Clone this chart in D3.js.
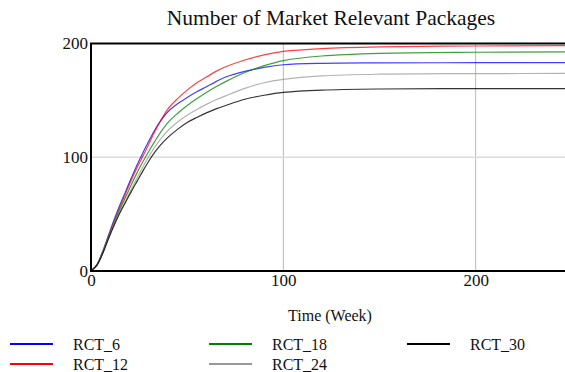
<!DOCTYPE html>
<html>
<head>
<meta charset="utf-8">
<script src="https://cdn.jsdelivr.net/npm/d3@7"></script>
<style>
  html, body { margin: 0; padding: 0; background: #fff; }
  svg text { font-family: "Liberation Serif", "Times New Roman", Times, "DejaVu Serif", serif; }
</style>
</head>
<body>
<svg id="chart" width="565" height="372"></svg>
<script>
// Simulation time axis (weeks)
const weeks = [0, 3, 6, 9, 12, 15, 18, 21, 24, 27, 30, 33, 36, 40, 45, 50, 55, 60, 65, 70, 80, 90, 100, 120, 150, 200, 250, 300];

// Number of market relevant packages for each release cycle time
const rct6  = [0, 5.5, 17, 31, 45, 58, 70, 82, 93.5, 104, 114, 123.5, 131.5, 140, 147, 152.5, 157.5, 162, 166.5, 170.5, 175.5, 179, 181.3, 182.6, 183, 183.1, 183.1, 183.1];
const rct12 = [0, 5, 16, 30, 43, 56, 68, 80, 91, 101, 111.5, 122, 131.5, 142.5, 151.5, 159, 165.5, 170.5, 175.5, 179.5, 185.5, 190, 193, 195.5, 197, 197.8, 198.2, 198.4];
const rct18 = [0, 5, 16, 29.5, 42, 54, 65, 76, 86.5, 96, 105, 113.5, 121.5, 130.5, 138.5, 145.5, 151.5, 157, 162, 166.5, 174.5, 180.5, 185, 189, 191.3, 192.3, 192.6, 192.8];
const rct24 = [0, 5, 15.5, 28.5, 41, 52, 62, 72, 82, 91.5, 100.5, 108.5, 115.5, 123.5, 131, 137, 142, 146.5, 150.5, 154, 160.5, 165.5, 168.5, 171.5, 173, 173.5, 173.7, 173.8];
const rct30 = [0, 5, 15, 28, 40, 51, 60.5, 70, 79, 88, 96.5, 104, 110.5, 117.5, 124.5, 130.5, 135, 139, 142.5, 145.5, 151, 154.5, 157, 159, 160, 160.3, 160.4, 160.5];

const seriesNames  = ["RCT_6", "RCT_12", "RCT_18", "RCT_24", "RCT_30"];
const seriesValues = [rct6, rct12, rct18, rct24, rct30];
const seriesColors = ["#0000ff", "#ff0000", "#008000", "#999999", "#000000"];

const xTicks = [0, 100, 200];
const yTicks = [0, 100, 200];

const title  = "Number of Market Relevant Packages";
const xTitle = "Time (Week)";

const serif = "'Liberation Serif', 'Times New Roman', Times, 'DejaVu Serif', serif";

const svg = d3.select("#chart");

const plot = { left: 91, top: 43.5, bottom: 271, right: 668 };

const x = d3.scaleLinear().domain([0, 300]).range([plot.left, plot.right]);
const y = d3.scaleLinear().domain([0, 200]).range([plot.bottom, plot.top]);

// Title
svg.append("text")
  .attr("x", 331).attr("y", 25)
  .attr("text-anchor", "middle")
  .attr("font-family", serif)
  .attr("font-size", 21.5)
  .attr("fill", "#111")
  .text(title);

// Grid lines
const grid = svg.append("g");
grid.selectAll("line.vg")
  .data(xTicks.filter(d => d > 0))
  .join("line")
  .attr("x1", d => x(d)).attr("x2", d => x(d))
  .attr("y1", plot.top).attr("y2", plot.bottom)
  .attr("stroke", "#b8b8b8").attr("stroke-width", 1);
grid.selectAll("line.hg")
  .data(yTicks.filter(d => d > 0 && d < 200))
  .join("line")
  .attr("x1", plot.left).attr("x2", plot.right)
  .attr("y1", d => y(d)).attr("y2", d => y(d))
  .attr("stroke", "#dcdcdc").attr("stroke-width", 1.5);

// Series lines
svg.append("clipPath").attr("id", "clip")
  .append("rect")
  .attr("x", plot.left).attr("y", plot.top)
  .attr("width", plot.right - plot.left).attr("height", plot.bottom - plot.top);

const line = d3.line()
  .x((d, i) => x(weeks[i]))
  .y(d => y(d))
  .curve(d3.curveCatmullRom.alpha(0.5));

svg.append("g").attr("clip-path", "url(#clip)")
  .selectAll("path")
  .data(seriesValues)
  .join("path")
  .attr("d", d => line(d))
  .attr("fill", "none")
  .attr("stroke", (d, i) => seriesColors[i])
  .attr("stroke-opacity", (d, i) => i === 4 ? 0.8 : 0.75)
  .attr("stroke-width", 1.2);

// Frame
svg.append("path")
  .attr("d", `M${plot.right},${plot.top}H${plot.left}V${plot.bottom}H${plot.right}`)
  .attr("fill", "none").attr("stroke", "#000").attr("stroke-width", 2);

// Axes (labels only)
const yAxis = svg.append("g")
  .attr("transform", `translate(${plot.left - 3},0)`)
  .call(d3.axisLeft(y).tickValues(yTicks).tickSize(0).tickPadding(0));
yAxis.select(".domain").remove();
yAxis.attr("font-family", serif).attr("font-size", 17);
yAxis.selectAll("text").attr("fill", "#111");

const xAxis = svg.append("g")
  .attr("transform", `translate(0,${plot.bottom + 3})`)
  .call(d3.axisBottom(x).tickValues(xTicks).tickSize(0).tickPadding(0));
xAxis.select(".domain").remove();
xAxis.attr("font-family", serif).attr("font-size", 17);
xAxis.selectAll("text").attr("fill", "#111");

// X axis title
svg.append("text")
  .attr("x", 330).attr("y", 321)
  .attr("text-anchor", "middle")
  .attr("font-family", serif)
  .attr("font-size", 16).attr("fill", "#111")
  .text(xTitle);

// Legend: three columns, two rows
const legendCols = [10, 209, 407];
const legendRows = [344, 364];
const legend = svg.append("g");
seriesNames.forEach((name, i) => {
  const cx = legendCols[Math.floor(i / 2)];
  const cy = legendRows[i % 2];
  legend.append("line")
    .attr("x1", cx).attr("x2", cx + 43)
    .attr("y1", cy).attr("y2", cy)
    .attr("stroke", seriesColors[i])
    .attr("stroke-width", 2.2);
  legend.append("text")
    .attr("x", cx + 63).attr("y", cy + 5.5)
    .attr("font-family", serif)
    .attr("font-size", 16).attr("fill", "#111")
    .text(name);
});
</script>
</body>
</html>
